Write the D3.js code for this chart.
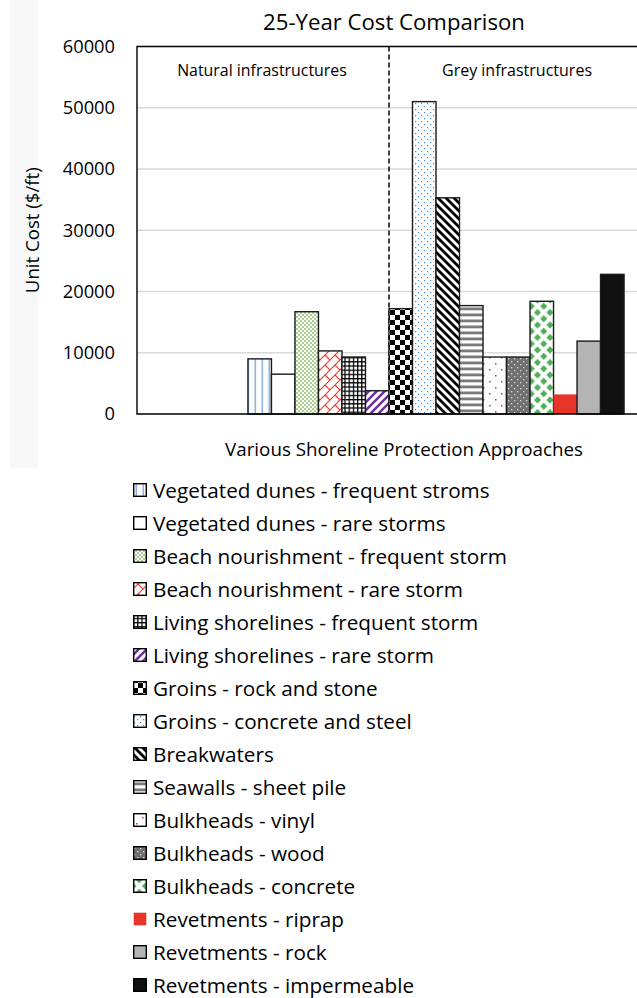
<!DOCTYPE html>
<html>
<head>
<meta charset="utf-8">
<script src="https://cdn.jsdelivr.net/npm/d3@7"></script>
<style>
  html, body { margin: 0; padding: 0; background: #ffffff; }
  svg { display: block; font-family: "Open Sans", Lato, sans-serif; }
</style>
</head>
<body>
<svg id="chart" width="637" height="998"></svg>
<script>
// ---------- data ----------
const categories = ["25-Year Cost"];
const series = [
  "Vegetated dunes - frequent stroms",
  "Vegetated dunes - rare storms",
  "Beach nourishment - frequent storm",
  "Beach nourishment - rare storm",
  "Living shorelines - frequent storm",
  "Living shorelines - rare storm",
  "Groins - rock and stone",
  "Groins - concrete and steel",
  "Breakwaters",
  "Seawalls - sheet pile",
  "Bulkheads - vinyl",
  "Bulkheads - wood",
  "Bulkheads - concrete",
  "Revetments - riprap",
  "Revetments - rock",
  "Revetments - impermeable"
];
const values = [9000, 6500, 16700, 10300, 9300, 3800, 17200, 51000, 35300, 17700, 9300, 9300, 18400, 3200, 11900, 22800];
const yTicks = [0, 10000, 20000, 30000, 40000, 50000, 60000];
const groupLabels = ["Natural infrastructures", "Grey infrastructures"];
const naturalCount = 6;
const chartTitle = "25-Year Cost Comparison";
const yTitle = "Unit Cost ($/ft)";
const xTitle = "Various Shoreline Protection Approaches";

// ---------- styles (pattern id per series) ----------
const fills = ["p0","p1","p2","p3","p4","p5","p6","p7","p8","p9","p10","p11","p12","p13","p14","p15"];
const noStroke = [false,false,false,false,false,false,false,false,false,false,false,false,false,true,false,false];

const svg = d3.select("#chart");
const defs = svg.append("defs");

function pat(id, w, h, bg) {
  const p = defs.append("pattern").attr("id", id).attr("patternUnits", "userSpaceOnUse")
    .attr("width", w).attr("height", h);
  if (bg) p.append("rect").attr("width", w).attr("height", h).attr("fill", bg);
  return p;
}
let p = pat("p0", 7, 7, "#fff");
p.append("rect").attr("x", 2.5).attr("width", 1.6).attr("height", 7).attr("fill", "#8fb4e3");
pat("p1", 4, 4, "#fff");
p = pat("p2", 4, 4, "#fff");
p.append("rect").attr("width", 2).attr("height", 2).attr("fill", "#a9d08e");
p.append("rect").attr("x", 2).attr("y", 2).attr("width", 2).attr("height", 2).attr("fill", "#a9d08e");
p = pat("p3", 10, 10, "#fff");
p.append("path").attr("d", "M0,10 L10,0 M-1,1 L1,-1 M9,11 L11,9 M5,5 L10,10")
  .attr("stroke", "#f0362b").attr("stroke-width", 1.1).attr("fill", "none");
p = pat("p4", 4.2, 4.2, "#fff");
p.append("path").attr("d", "M0,0.6 H4.2 M0.6,0 V4.2").attr("stroke", "#000").attr("stroke-width", 1.3);
p = pat("p5", 8, 8, "#fff");
p.append("path").attr("d", "M0,8 L8,0 M-2,2 L2,-2 M6,10 L10,6").attr("stroke", "#7030a0").attr("stroke-width", 2.6);
p = pat("p6", 10, 10, "#fff");
p.append("rect").attr("width", 5).attr("height", 5).attr("fill", "#000");
p.append("rect").attr("x", 5).attr("y", 5).attr("width", 5).attr("height", 5).attr("fill", "#000");
p = pat("p7", 6, 6, "#fff");
p.append("rect").attr("x", 1).attr("y", 1).attr("width", 1.2).attr("height", 1.2).attr("fill", "#4a86c8");
p.append("rect").attr("x", 4).attr("y", 4).attr("width", 1.2).attr("height", 1.2).attr("fill", "#4a86c8");
p = pat("p8", 8, 8, "#fff");
p.append("path").attr("d", "M0,0 L8,8 M-2,6 L2,10 M6,-2 L10,2").attr("stroke", "#000").attr("stroke-width", 2.8);
p = pat("p9", 6, 6, "#fff");
p.append("rect").attr("y", 1.5).attr("width", 6).attr("height", 2.8).attr("fill", "#7a7a7a");
p = pat("p10", 12, 12, "#fff");
p.append("rect").attr("x", 3).attr("y", 3).attr("width", 1.5).attr("height", 1.5).attr("fill", "#d9302a");
p.append("rect").attr("x", 9).attr("y", 9).attr("width", 1.5).attr("height", 1.5).attr("fill", "#d9302a");
p = pat("p11", 6, 6, "#707070");
p.append("rect").attr("x", 1).attr("y", 1).attr("width", 1.3).attr("height", 1.3).attr("fill", "#d8d8d8");
p.append("rect").attr("x", 4).attr("y", 4).attr("width", 1.3).attr("height", 1.3).attr("fill", "#d8d8d8");
// green diamonds
p = pat("p12", 12.5, 12.5, "#fff");
function diamond(cx, cy, r) { return `M${cx},${cy - r} L${cx + r},${cy} L${cx},${cy + r} L${cx - r},${cy} Z`; }
p.append("path").attr("d", [diamond(6.25, 6.25, 3.6), diamond(0, 0, 3.6), diamond(12.5, 0, 3.6), diamond(0, 12.5, 3.6), diamond(12.5, 12.5, 3.6)].join(" "))
  .attr("fill", "#4fae5a");
pat("p13", 4, 4, "#e8352a");
pat("p14", 4, 4, "#b4b4b4");
pat("p15", 4, 4, "#111111");

// ---------- layout ----------
const plot = { left: 137, right: 735, top: 46.5, bottom: 414 };

svg.append("rect").attr("x", 10).attr("y", 0).attr("width", 28).attr("height", 468).attr("fill", "#f8f8f8");

const y = d3.scaleLinear().domain([0, 60000]).range([plot.bottom, plot.top]);
const xCat = d3.scaleBand().domain(categories).range([plot.left, plot.right]).paddingInner(0).paddingOuter(0.295);
const xSer = d3.scaleBand().domain(series).range([0, xCat.bandwidth()]);

function fit(sel, width) {
  const n = sel.node();
  const base = 20;
  sel.attr("font-size", base);
  const w = n.getComputedTextLength();
  sel.attr("font-size", base * width / w);
  return sel;
}

svg.append("g").selectAll("line").data(yTicks.filter(t => t > 0 && t < 60000)).join("line")
  .attr("x1", plot.left).attr("x2", 637).attr("y1", d => y(d)).attr("y2", d => y(d))
  .attr("stroke", "#d9d9d9").attr("stroke-width", 1.3);

const yAxis = d3.axisLeft(y).tickValues(yTicks).tickSize(0).tickPadding(22).tickFormat(d3.format("d"));
const gy = svg.append("g").attr("transform", `translate(${plot.left},0)`).call(yAxis);
gy.select(".domain").remove();
gy.selectAll("text").attr("font-size", 18.3).attr("fill", "#000").attr("font-family", "\"Open Sans\"");

const sepX = xCat(categories[0]) + xSer(series[naturalCount]);
svg.append("line").attr("x1", sepX).attr("x2", sepX).attr("y1", plot.top).attr("y2", plot.bottom)
  .attr("stroke", "#000").attr("stroke-width", 1.5).attr("stroke-dasharray", "5,3");

svg.append("g").selectAll("rect").data(series).join("rect")
  .attr("x", d => xCat(categories[0]) + xSer(d))
  .attr("width", xSer.bandwidth())
  .attr("y", (d, i) => y(values[i]))
  .attr("height", (d, i) => y(0) - y(values[i]))
  .attr("fill", (d, i) => `url(#${fills[i]})`)
  .attr("stroke", (d, i) => noStroke[i] ? "none" : "#1a1a1a")
  .attr("stroke-width", 1.4);

svg.append("path")
  .attr("d", `M${plot.right},${plot.top} H${plot.left} V${plot.bottom} H${plot.right}`)
  .attr("fill", "none").attr("stroke", "#000").attr("stroke-width", 1.4);

fit(svg.append("text").attr("x", 262).attr("y", 70).attr("text-anchor", "middle").attr("dominant-baseline", "central")
  .text(groupLabels[0]), 170);
fit(svg.append("text").attr("x", 517).attr("y", 70).attr("text-anchor", "middle").attr("dominant-baseline", "central")
  .text(groupLabels[1]), 150);

fit(svg.append("text").attr("x", 394).attr("y", 21).attr("text-anchor", "middle").attr("dominant-baseline", "central")
  .text(chartTitle), 262);
fit(svg.append("text").attr("x", 404).attr("y", 448).attr("text-anchor", "middle").attr("dominant-baseline", "central")
  .text(xTitle), 358);
fit(svg.append("text").attr("transform", `translate(31,${(plot.top + plot.bottom) / 2}) rotate(-90)`)
  .attr("text-anchor", "middle").attr("dominant-baseline", "central")
  .text(yTitle), 126);

const legY = d3.scalePoint().domain(series).range([490, 985]);
const leg = svg.append("g").selectAll("g").data(series).join("g")
  .attr("transform", d => `translate(133,${legY(d)})`);
leg.append("rect").attr("x", 0.7).attr("y", -6.3).attr("width", 12.6).attr("height", 12.6)
  .attr("fill", (d, i) => `url(#${fills[i]})`)
  .attr("stroke", (d, i) => noStroke[i] ? "none" : "#000").attr("stroke-width", 1.4);
const legText = leg.append("text").attr("x", 20).attr("y", 0).attr("dominant-baseline", "central").text(d => d);
const first = d3.select(legText.nodes()[0]);
fit(first, 337);
legText.attr("font-size", first.attr("font-size"));
</script>
</body>
</html>
